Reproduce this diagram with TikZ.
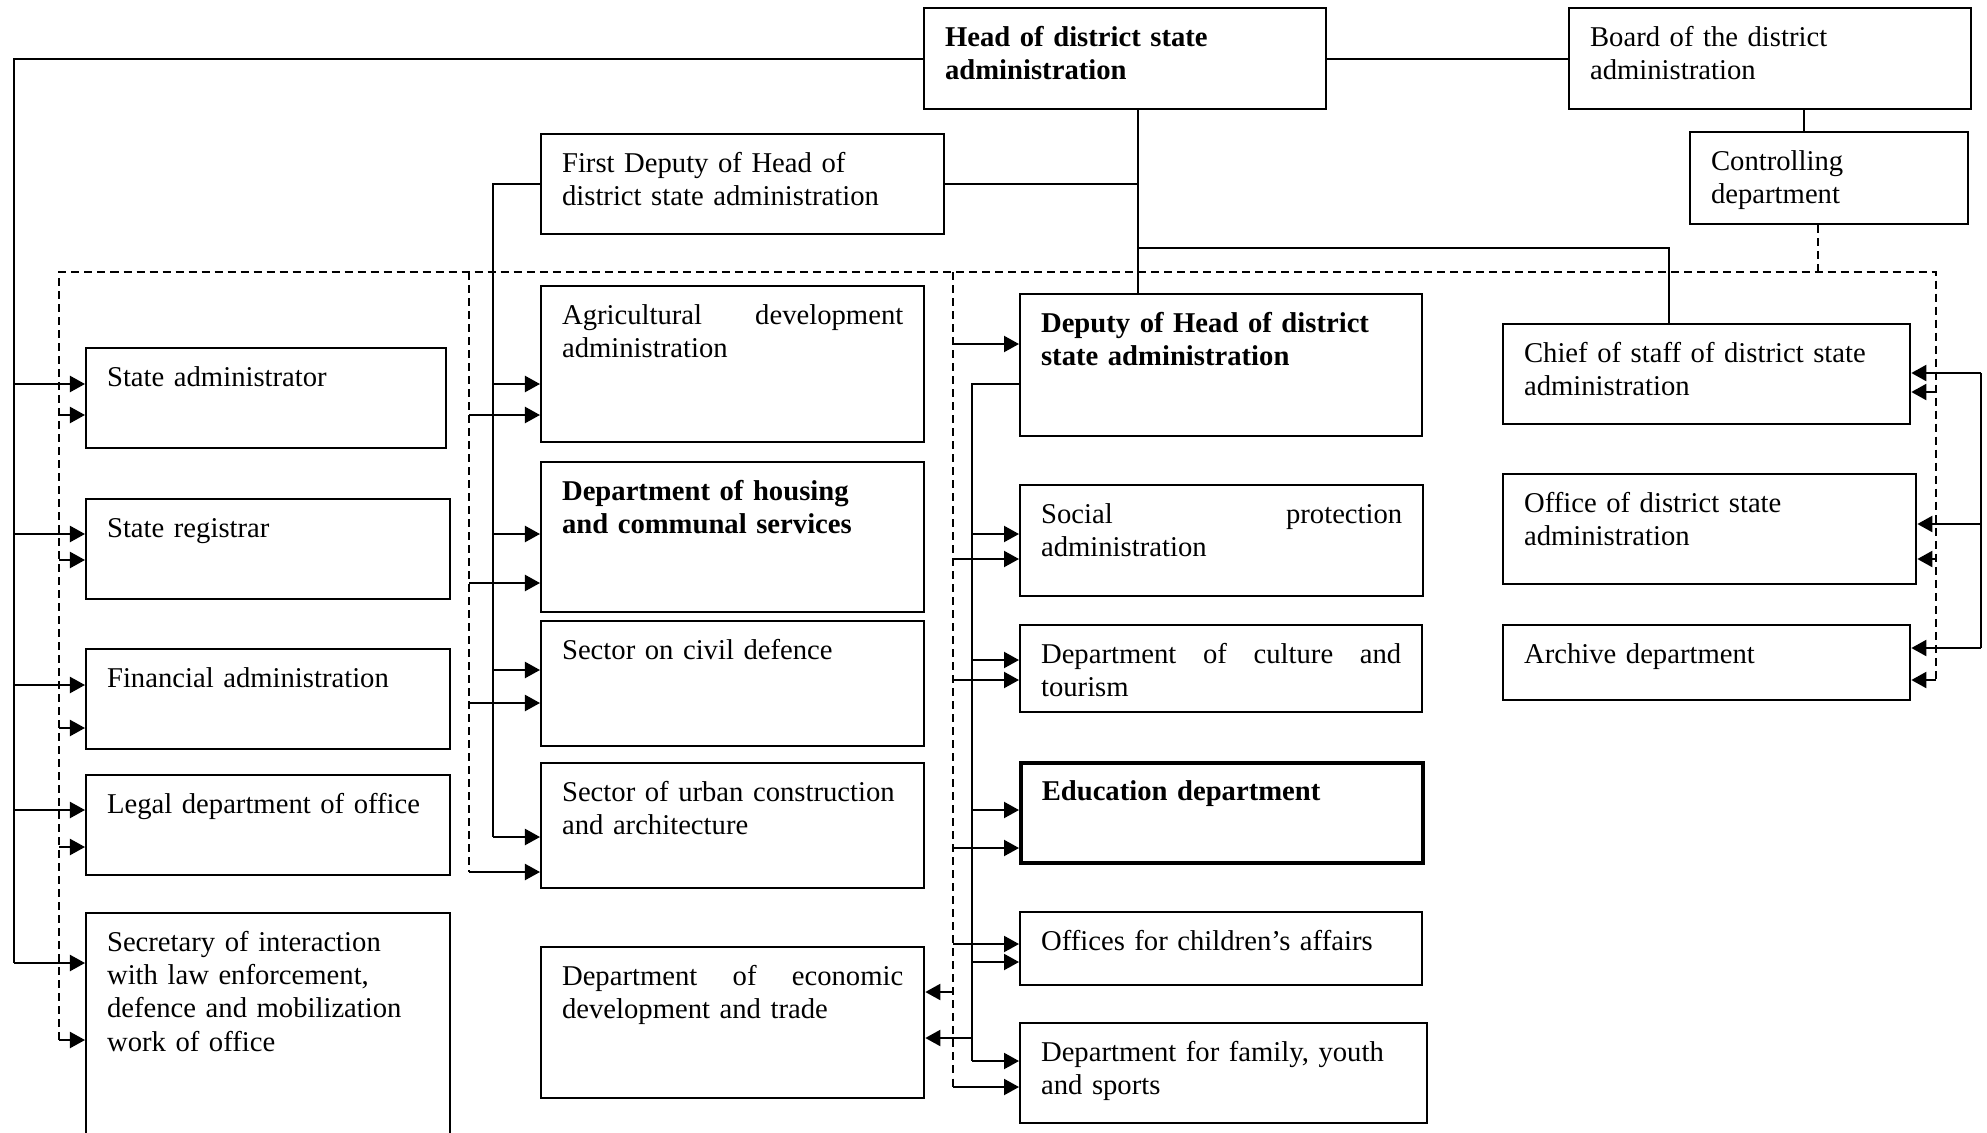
\documentclass[tikz,border=0pt]{standalone}
\usepackage{fontspec}
\setmainfont{Liberation Serif}
\usetikzlibrary{arrows.meta}

\begin{document}
\begin{tikzpicture}[x=0.01cm, y=-0.01cm]

    % Common styles
    \tikzset{
        unit/.style={draw, line width=0.6pt, anchor=north west, align=left,
            inner xsep=0.21cm, inner ysep=0pt, text height=0.38cm,
            font=\fontsize{8.15}{9.5}\selectfont},
        conn/.style={line width=0.6pt},
        arr/.style={conn, -{Triangle[length=0.15cm, width=0.16cm]}},
        dashbus/.style={line width=0.6pt, dash pattern=on 0.08cm off 0.05cm}
    }

    \useasboundingbox (0,0) rectangle (1987,1133);

    % ===================== Top level =====================
    \node[unit, text width=3.60cm, text depth=0.63cm] (head) at (923,7)
        {\bfseries Head of district state\\administration};
    \node[unit, text width=3.60cm, text depth=0.63cm] (board) at (1568,7)
        {Board of the district\\administration};
    \node[unit, text width=2.36cm, text depth=0.54cm] (control) at (1689,131)
        {Controlling\\department};
    \node[unit, text width=3.61cm, text depth=0.62cm] (fdep) at (540,133)
        {First Deputy of Head of\\district state administration};

    % ===================== Left column =====================
    \node[unit, text width=3.18cm, text depth=0.62cm] (statead) at (85,347)
        {State administrator};
    \node[unit, text width=3.22cm, text depth=0.62cm] (registrar) at (85,498)
        {State registrar};
    \node[unit, text width=3.22cm, text depth=0.62cm] (financial) at (85,648)
        {Financial administration};
    \node[unit, text width=3.22cm, text depth=0.62cm] (legal) at (85,774)
        {Legal department of office};
    \node[unit, text width=3.22cm, text depth=2.02cm] (secretary) at (85,912)
        {Secretary of interaction\\with law enforcement,\\defence and mobilization\\work of office};

    % ===================== Second column =====================
    \node[unit, text width=3.41cm, text depth=1.18cm] (agri) at (540,285)
        {Agricultural \hfill development\\administration};
    \node[unit, text width=3.41cm, text depth=1.12cm] (housing) at (540,461)
        {\bfseries Department of housing\\and communal services};
    \node[unit, text width=3.41cm, text depth=0.87cm] (civil) at (540,620)
        {Sector on civil defence};
    \node[unit, text width=3.41cm, text depth=0.87cm] (urban) at (540,762)
        {Sector of urban construction\\and architecture};
    \node[unit, text width=3.41cm, text depth=1.13cm] (economic) at (540,946)
        {Department \hfill of \hfill economic\\development and trade};

    % ===================== Third column =====================
    \node[unit, text width=3.60cm, text depth=1.04cm] (deputy) at (1019,293)
        {\bfseries Deputy of Head of district\\state administration};
    \node[unit, text width=3.61cm, text depth=0.73cm] (social) at (1019,484)
        {Social \hfill protection\\administration};
    \node[unit, text width=3.60cm, text depth=0.49cm] (culture) at (1019,624)
        {Department \hfill of \hfill culture \hfill and\\tourism};
    \node[unit, line width=1pt, text width=3.60cm, text depth=0.62cm] (education) at (1019,761)
        {\bfseries Education department};
    \node[unit, text width=3.60cm, text depth=0.35cm] (children) at (1019,911)
        {Offices for children’s affairs};
    \node[unit, text width=3.65cm, text depth=0.62cm] (family) at (1019,1022)
        {Department for family, youth\\and sports};

    % ===================== Right column =====================
    \node[unit, text width=3.65cm, text depth=0.62cm] (chief) at (1502,323)
        {Chief of staff of district state\\administration};
    \node[unit, text width=3.71cm, text depth=0.72cm] (office) at (1502,473)
        {Office of district state\\administration};
    \node[unit, text width=3.65cm, text depth=0.37cm] (archive) at (1502,624)
        {Archive department};

    % ===================== Links from the top =====================
    \draw[conn] (head.east) -- (board.west);
    \draw[conn] (board.south -| 1804,0) -- (control.north -| 1804,0);
    \draw[conn] (head.south -| 1138,0) -- (deputy.north -| 1138,0);
    \draw[conn] (fdep.east) -- (fdep.east -| 1138,0);
    \draw[conn] (1138,248) -| (chief.north -| 1669,0);

    % dashed frame and dashed buses
    \draw[dashbus] (59,1040) |- (1936,272) -- (1936,680);
    \draw[dashbus] (469,272) -- (469,872);
    \draw[dashbus] (953,272) -- (953,1087);
    \draw[dashbus] (control.south -| 1818,0) -- (1818,272);

    % ===================== Left column arrows =====================
    \draw[conn] (head.west) -| (14,963);
    \foreach \n/\y in {statead/384, registrar/534, financial/685, legal/810, secretary/963}
        \draw[arr] (14,\y) -- (\n.west |- 0,\y);
    \foreach \n/\y in {statead/415, registrar/560, financial/728, legal/847, secretary/1040}
        \draw[arr] (59,\y) -- (\n.west |- 0,\y);

    % ===================== Second column arrows =====================
    \draw[conn] (fdep.west) -| (493,837);
    \foreach \n/\y in {agri/384, housing/534, civil/670, urban/837}
        \draw[arr] (493,\y) -- (\n.west |- 0,\y);
    \foreach \n/\y in {agri/415, housing/583, civil/703, urban/872}
        \draw[arr] (469,\y) -- (\n.west |- 0,\y);

    % ===================== Third column arrows =====================
    \draw[conn] (deputy.west |- 0,384) -| (972,1061);
    \foreach \n/\y in {social/534, culture/660, education/810, children/962, family/1061}
        \draw[arr] (972,\y) -- (\n.west |- 0,\y);
    \foreach \n/\y in {deputy/344, social/559, culture/680, education/848, children/944, family/1087}
        \draw[arr] (953,\y) -- (\n.west |- 0,\y);
    \draw[arr] (972,1038) -- (economic.east |- 0,1038);
    \draw[arr] (953,992) -- (economic.east |- 0,992);

    % ===================== Right column arrows =====================
    \draw[conn] (1981,373) -- (1981,648);
    \foreach \n/\y in {chief/373, office/524, archive/648}
        \draw[arr] (1981,\y) -- (\n.east |- 0,\y);
    \foreach \n/\y in {chief/392, office/559, archive/680}
        \draw[arr] (1936,\y) -- (\n.east |- 0,\y);

\end{tikzpicture}
\end{document}
